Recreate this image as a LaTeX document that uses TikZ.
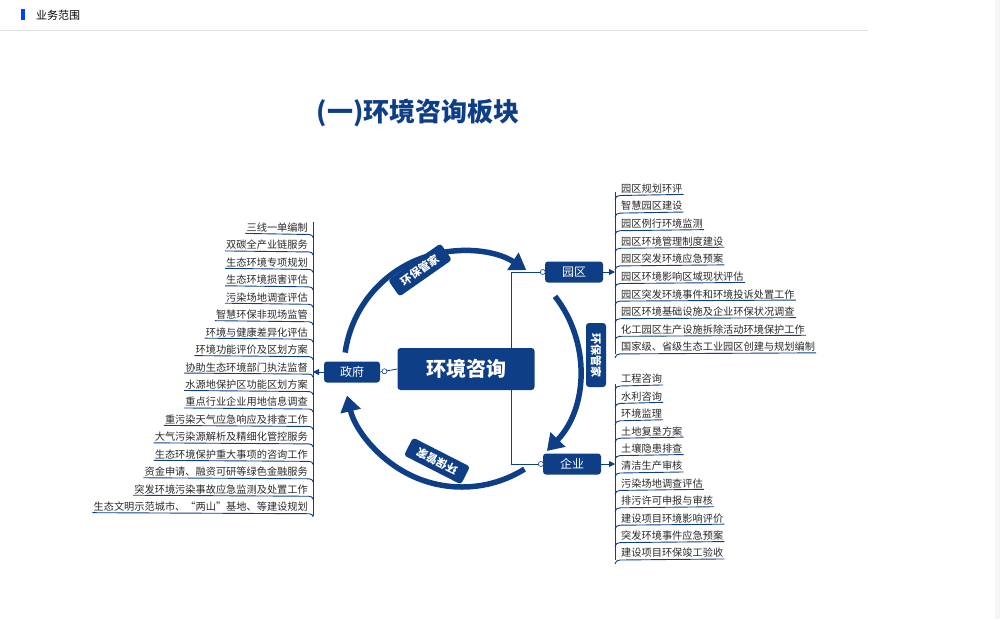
\documentclass[tikz,border=0pt]{standalone}
\usepackage{fontspec}
\setmainfont{Noto Sans CJK SC}
\usetikzlibrary{arrows.meta}
\definecolor{navy}{HTML}{0E3F86}
\definecolor{itemtxt}{HTML}{2A2A2A}
\tikzset{
  pt/.style={x=1pt,y=1pt},
  box/.style={fill=navy,text=white,rounded corners=3pt,inner sep=0pt,align=center},
  ring/.style={navy,line width=5.5pt,-{Triangle[length=16pt,width=20pt]}},
  arclbl/.style={box,minimum width=64pt,minimum height=20pt,font=\fontsize{11}{11}\selectfont\bfseries},
  item/.style={text=itemtxt,inner sep=1pt,font=\fontsize{10.2}{11}\selectfont},
  uline/.style={navy,line width=0.9pt},
  link/.style={navy,line width=0.8pt},
  dot/.style={circle,draw=navy,fill=white,line width=0.6pt,inner sep=0pt,minimum size=5pt}
}
\begin{document}
\begin{tikzpicture}[pt]
\useasboundingbox (0,0) rectangle (1000,-619);
\fill[white] (0,0) rectangle (1000,-619);
\fill[gray!8] (995,0) rectangle (1000,-619);
% header
\fill[blue!75!cyan] (21,-9) rectangle (25,-20);
\node[anchor=west,inner sep=0pt,font=\fontsize{11}{11}\selectfont] (hdr) at (36,-15) {业务范围};
\draw[gray!25,line width=0.8pt] (0,-30) -- (868,-30);
% title
\node[text=navy,font=\fontsize{26}{26}\selectfont\bfseries] (title) at (418,-113) {(一)环境咨询板块};
% ring
\coordinate (C) at (462,-369);
\draw[ring] ([shift={(172:118)}]C) arc[start angle=172,end angle=57,radius=118];
\draw[ring] ([shift={(38:118)}]C) arc[start angle=38,end angle=-44,radius=118];
\draw[ring] ([shift={(-58:118)}]C) arc[start angle=-58,end angle=-167,radius=118];
% main nodes
\node[box,minimum width=137pt,minimum height=42pt,font=\fontsize{20}{20}\selectfont\bfseries] (main) at (466,-369) {环境咨询};
\node[box,minimum width=56pt,minimum height=21pt,font=\fontsize{12}{12}\selectfont] (gov) at (352,-372) {政府};
\node[box,minimum width=58pt,minimum height=21pt,font=\fontsize{12}{12}\selectfont] (park) at (574,-272) {园区};
\node[box,minimum width=58pt,minimum height=21pt,font=\fontsize{12}{12}\selectfont] (ent) at (572,-464) {企业};
% arc labels
\node[arclbl,rotate=35] (l1) at (420,-270) {环保管家};
\node[arclbl,rotate=-90] (l2) at (596,-355) {环保管家};
\node[arclbl,rotate=153] (l3) at (437,-461) {环保管家};
% links
\draw[link] (main.west) -- (gov.east) node[dot,pos=0.75] {};
\draw[link] (511,-348) |- (park.west) node[dot,pos=0.97] {};
\draw[link] (511,-390) |- (ent.west) node[dot,pos=0.97] {};
% left list
\draw[uline] (313,-222) -- (313,-516);
\foreach \t [count=\i] in {三线一单编制,双碳全产业链服务,生态环境专项规划,生态环境损害评估,污染场地调查评估,智慧环保非现场监管,环境与健康差异化评估,环境功能评价及区划方案,协助生态环境部门执法监督,水源地保护区功能区划方案,重点行业企业用地信息调查,重污染天气应急响应及排查工作,大气污染源解析及精细化管控服务,生态环境保护重大事项的咨询工作,资金申请、融资可研等绿色金融服务,突发环境污染事故应急监测及处置工作,生态文明示范城市、“两山”基地、等建设规划}{
  \pgfmathsetmacro{\yy}{-227.5-17.45*(\i-1)}
  \node[item,anchor=east] (L\i) at (309,\yy) {\t};
  \draw[uline] (L\i.south west) -- (309,\yy-7) to[out=0,in=90] (313,\yy-10);
}
\draw[link,-{Triangle[length=6pt,width=6pt]}] (gov.west) -- (313,-372);
% park list
\draw[uline] (615,-192) -- (615,-354);
\foreach \t [count=\i] in {园区规划环评,智慧园区建设,园区例行环境监测,园区环境管理制度建设,园区突发环境应急预案,园区环境影响区域现状评估,园区突发环境事件和环境投诉处置工作,园区环境基础设施及企业环保状况调查,化工园区生产设施拆除活动环境保护工作,国家级、省级生态工业园区创建与规划编制}{
  \pgfmathsetmacro{\yy}{-188.5-17.6*(\i-1)}
  \node[item,anchor=west] (P\i) at (620,\yy) {\t};
  \draw[uline] (P\i.south east) -- (620,\yy-7) to[out=180,in=90] (615,\yy-11);
}
\draw[link,-{Triangle[length=6pt,width=6pt]}] (park.east) -- (615,-272);
% enterprise list
\draw[uline] (615,-384) -- (615,-560);
\foreach \t [count=\i] in {工程咨询,水利咨询,环境监理,土地复垦方案,土壤隐患排查,清洁生产审核,污染场地调查评估,排污许可申报与审核,建设项目环境影响评价,突发环境事件应急预案,建设项目环保竣工验收}{
  \pgfmathsetmacro{\yy}{-379-17.4*(\i-1)}
  \node[item,anchor=west] (E\i) at (620,\yy) {\t};
  \draw[uline] (E\i.south east) -- (620,\yy-7) to[out=180,in=90] (615,\yy-11);
}
\draw[link,-{Triangle[length=6pt,width=6pt]}] (ent.east) -- (615,-464);
\end{tikzpicture}
\end{document}
